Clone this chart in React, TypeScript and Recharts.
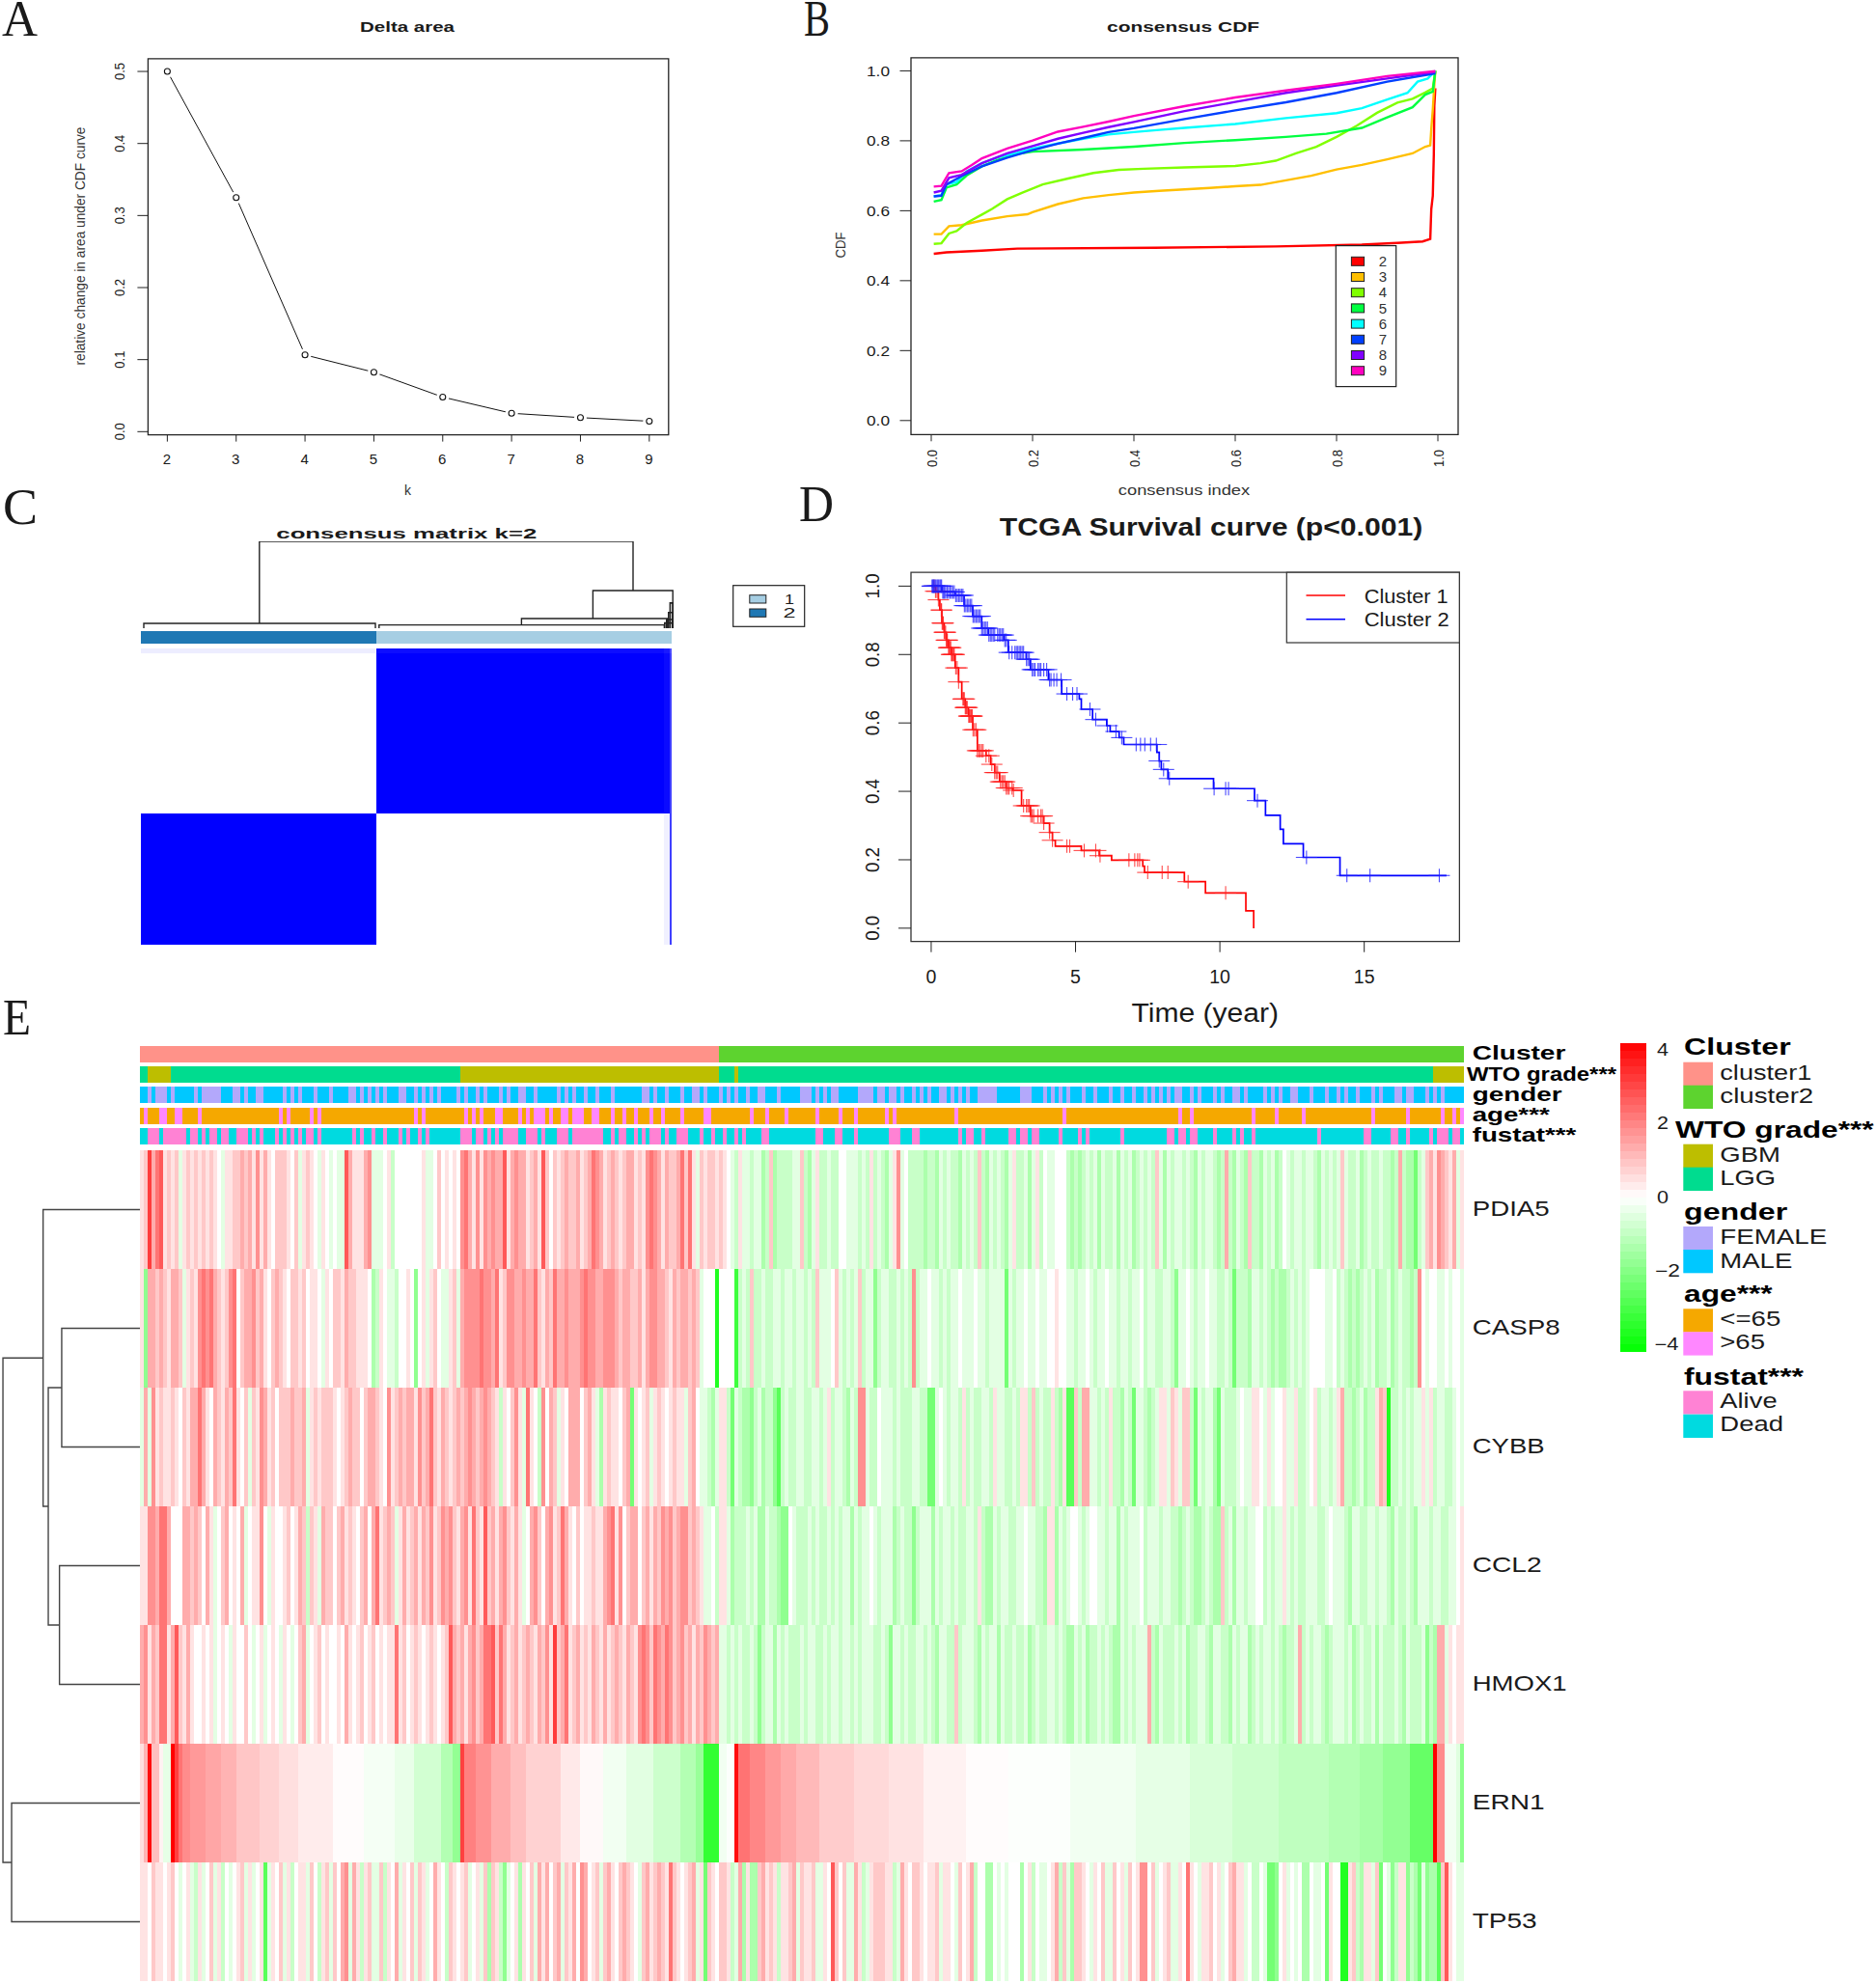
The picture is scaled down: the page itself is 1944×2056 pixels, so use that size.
import React from 'react';
import { LineChart, Line, XAxis, YAxis, BarChart, Bar, Cell, ReferenceArea } from 'recharts';

// ---------- Panel A
const deltaK = [2, 3, 4, 5, 6, 7, 8, 9];
const deltaArea = [0.5, 0.325, 0.1065, 0.0825, 0.048, 0.0255, 0.0195, 0.0145];
const deltaYTicks = [0, 0.1, 0.2, 0.3, 0.4, 0.5];

// ---------- Panel B
const cdfKeys = ['2', '3', '4', '5', '6', '7', '8', '9'];
const cdfColors = ['#FF0000', '#FFBF00', '#80FF00', '#00FF40', '#00FFFF', '#0040FF', '#8000FF', '#FF00BF'];
const cdf2x = [.005, .03, .1, .17, .44, .68, .85, .92, .97, .985, .987, .99, .992, .993, .995];
const cdf2y = [.477, .481, .486, .4916, .494, .498, .503, .508, .512, .519, .605, .643, .76, .9, .95];
const cdf3x = [.005, .02, .035, .06, .1, .15, .19, .2, .25, .3, .35, .4, .45, .5, .55, .6, .65, .7, .75, .8, .85, .9, .95, .975, .985, .987, .99, .993, .995];
const cdf3y = [.533, .533, .556, .559, .572, .584, .59, .596, .619, .636, .645, .652, .657, .661, .665, .67, .674, .687, .7, .718, .731, .747, .764, .783, .787, .834, .89, .96, 1];
const cdf4x = [.005, .02, .035, .05, .07, .1, .12, .15, .18, .22, .27, .32, .37, .42, .5, .6, .65, .68, .72, .76, .8, .84, .88, .92, .95, .975, .99, .995];
const cdf4y = [.505, .507, .535, .542, .565, .589, .605, .633, .652, .675, .692, .708, .717, .72, .724, .728, .736, .743, .764, .783, .811, .843, .88, .909, .92, .938, .95, 1];
const cdf5x = [.005, .02, .03, .05, .07, .1, .13, .17, .2, .3, .4, .5, .6, .7, .78, .85, .9, .95, .975, .99, .995];
const cdf5y = [.626, .631, .666, .675, .701, .727, .745, .762, .769, .775, .783, .794, .802, .811, .82, .837, .867, .896, .932, .941, 1];
const cdf6x = [.005, .02, .03, .05, .07, .1, .13, .17, .2, .25, .3, .35, .4, .45, .5, .6, .7, .8, .85, .9, .94, .96, .98, .995];
const cdf6y = [.641, .645, .675, .682, .713, .736, .752, .766, .778, .792, .806, .818, .825, .831, .837, .848, .865, .879, .893, .918, .937, .969, .978, 1];
const cdf7x = [.005, .02, .03, .06, .1, .15, .2, .25, .3, .35, .4, .5, .6, .7, .8, .9, .995];
const cdf7y = [.641, .643, .675, .699, .727, .752, .773, .792, .808, .825, .836, .862, .887, .91, .937, .969, .993];
const cdf8x = [.005, .02, .035, .06, .1, .15, .2, .25, .3, .35, .4, .5, .6, .7, .8, .9, .995];
const cdf8y = [.652, .657, .694, .703, .736, .764, .785, .806, .823, .839, .854, .885, .911, .937, .958, .978, .997];
const cdf9x = [.005, .02, .035, .06, .08, .1, .15, .2, .25, .3, .35, .4, .5, .6, .7, .8, .9, .995];
const cdf9y = [.669, .671, .708, .713, .731, .75, .778, .801, .826, .84, .855, .871, .899, .924, .944, .963, .985, .999];
const cdfTicks = [0, 0.2, 0.4, 0.6, 0.8, 1];

// ---------- Panel D
const sur1t = [0, .15, .25, .3, .37, .45, .52, .6, .7, .83, .95, 1.06, 1.18, 1.29, 1.44, 1.6, 1.9, 2.06, 2.2, 2.37, 2.6, 2.83, 3.13, 3.44, 3.9, 4.1, 4.2, 4.3, 5.2, 5.82, 6.25, 7.33, 7.39, 8.77, 9.5, 10.9, 11.17];
const sur1s = [1, .985, .96, .93, .892, .865, .842, .82, .8, .761, .72, .67, .645, .62, .58, .519, .504, .479, .455, .428, .41, .403, .358, .328, .307, .28, .257, .24, .227, .212, .199, .181, .163, .136, .103, .051, 0];
const cen1 = [.1, .15, .2, .25, .35, .36, .38, .4, .42, .45, .47, .5, .52, .55, .56, .6, .62, .65, .68, .7, .72, .75, .78, .8, .85, .9, .95, 1.1, 1.12, 1.15, 1.18, 1.2, 1.22, 1.25, 1.3, 1.32, 1.35, 1.38, 1.4, 1.42, 1.45, 1.5, 1.55, 1.6, 1.65, 1.7, 1.75, 1.8, 1.9, 2.0, 2.1, 2.2, 2.25, 2.3, 2.4, 2.45, 2.5, 2.55, 2.6, 2.65, 2.7, 2.8, 2.85, 3.2, 3.3, 3.35, 3.4, 3.45, 3.5, 3.55, 3.7, 3.8, 3.85, 3.9, 4.1, 4.2, 4.7, 4.8, 5.3, 5.7, 5.85, 6.85, 7.05, 7.15, 7.22, 7.5, 8.0, 8.2, 8.9, 10.2];
const sur2t = [0, .37, .83, 1.14, 1.44, 1.75, 1.98, 2.52, 2.67, 3.29, 3.44, 4.06, 4.52, 5.13, 5.2, 5.59, 6.08, 6.2, 6.51, 6.67, 7.82, 7.9, 7.97, 8.2, 9.78, 11.2, 11.58, 12.09, 12.2, 12.89, 14.16, 17.85];
const sur2s = [1, .983, .973, .943, .912, .877, .857, .842, .806, .786, .756, .726, .685, .67, .64, .61, .592, .575, .557, .537, .514, .489, .464, .4375, .408, .373, .33, .289, .247, .207, .154, .154];
const cen2 = [.03, .05, .08, .1, .13, .16, .2, .23, .26, .3, .33, .36, .4, .43, .46, .5, .55, .6, .65, .7, .75, .8, .85, .9, .95, 1.0, 1.05, 1.1, 1.15, 1.2, 1.25, 1.3, 1.35, 1.4, 1.45, 1.5, 1.55, 1.6, 1.65, 1.7, 1.75, 1.8, 1.85, 1.9, 1.95, 2.0, 2.05, 2.1, 2.15, 2.2, 2.3, 2.35, 2.4, 2.45, 2.5, 2.55, 2.6, 2.7, 2.8, 2.9, 2.95, 3.0, 3.05, 3.1, 3.15, 3.2, 3.3, 3.35, 3.4, 3.5, 3.55, 3.6, 3.7, 3.75, 3.8, 3.9, 4.0, 4.1, 4.15, 4.25, 4.35, 4.5, 4.7, 4.9, 5.05, 5.5, 5.7, 6.1, 6.4, 6.6, 7.1, 7.25, 7.4, 7.6, 7.8, 7.9, 8.05, 8.25, 9.8, 10.2, 10.3, 11.3, 13.0, 14.4, 15.2, 17.6];
const survXTicks = [0, 5, 10, 15];
const survYTicks = [0, 0.2, 0.4, 0.6, 0.8, 1];

// ---------- Panel C: columns are grouped samples; rows give consensus strength (0..1)
const cmCounts = [122, 149, 3, 1];
const cmCluster = [2, 1, 1, 1];
const cmBand = [.07, .95, .9, .7];
const cmUpper = [0, 1, .96, .75];
const cmLower = [1, 0, .06, .75];
const cmRowBand = 5, cmRowUpper = 166, cmRowLower = 136, cmGap = 5, cmRowBar = 13;
// dendrogram links: [leftSample, leftHeight, rightSample, rightHeight, mergeHeight]
const cmLinks = [
  [61.4, .056, 255, .433, 1],
  [1.5, 0, 121.5, 0, .056],
  [234.2, .111, 275.6, 0, .433],
  [197.2, .038, 272.9, 0, .111],
  [123.4, 0, 271.2, 0, .038],
  [274.2, 0, 275.6, 0, .29],
  [273.4, 0, 275.6, 0, .18],
  [272.4, 0, 275.6, 0, .1],
  [271.4, 0, 275.6, 0, .06],
];

// ---------- Panel E: gene rows, half-unit level per column; a = cluster 1 columns, b = cluster 2 columns
const genes = ['PDIA5', 'CASP8', 'CYBB', 'CCL2', 'HMOX1', 'ERN1', 'TP53'];
const PDIA5a = [
  1,2,7,3,5,6,1,2,1,2,-1,1,2,1,2,1,2,1,2,1,0,-1,1,1,2,2,3,2,3,1,4,1,3,1,0,2,2,2,1,0,2,-1,1,2,1,0,-1,1,0,-1,
  0,-1,-1,6,3,1,1,1,3,4,-1,-1,-1,0,1,-2,0,0,0,0,0,0,0,1,-1,-1,0,2,0,1,0,1,0,4,5,3,1,4,1,4,3,4,3,3,6,1,3,4,3,3,
  1,2,3,1,6,2,0,2,1,2,3,2,2,3,1,2,3,5,4,3,1,2,3,2,1,2,3,3,1,2,1,4,5,4,3,1,3,2,2,3,5,2,5,1,-1,2,1,2,2,1,
];
const PDIA5b = [
  2,1,0,-1,-2,1,-1,-1,-2,-1,-1,-3,-2,2,-3,-2,-2,-2,-2,-1,-1,2,-2,-3,-1,1,-2,-2,-1,-2,-2,0,0,-1,-1,-1,-2,-1,-2,1,-2,
  -1,-2,-3,-1,1,4,-1,0,-2,-2,-2,-2,-3,-2,-2,-3,-1,-2,-1,-2,-2,-3,-1,-2,-1,-2,2,-2,-3,-1,-2,-1,-2,-3,-1,1,-2,-2,-1,-3,
  -1,1,-2,0,-1,-1,0,0,0,-2,-3,-2,-3,-2,-1,-2,-1,-3,-1,-2,-2,-1,-3,-1,-2,-1,-3,-2,-1,-2,-1,-2,2,-1,-3,-1,-2,-1,-1,-2,
  -1,-2,-3,-1,-2,-1,-1,-2,-3,-2,3,-2,-3,-1,-2,-3,2,-2,-2,-3,-1,-2,-1,-3,-2,0,-1,-2,-1,-1,-2,-1,-1,-2,-3,-1,-2,-1,-2,-1,
  2,-1,-2,-2,-1,-3,-2,-1,-2,-2,-1,-2,-2,-3,-2,3,-2,-3,-3,-5,-2,-1,2,3,1,4,3,2,1,3,-1,1,
];
const CASP8a = [
  1,-4,3,3,2,3,2,1,3,3,2,-1,1,2,1,4,5,4,5,3,2,1,2,4,5,0,2,3,3,4,2,3,1,0,2,3,2,1,0,2,2,1,2,0,1,1,0,-1,1,0,
  2,2,1,3,2,2,1,1,1,0,-3,-2,1,0,-1,-1,-2,0,0,1,0,-4,0,1,-1,1,2,0,-1,-1,1,2,-1,3,4,4,4,4,5,4,4,3,5,1,2,4,4,3,3,4,
  3,3,5,2,1,3,2,5,3,3,4,3,3,3,4,5,4,4,3,3,4,4,4,3,2,3,3,2,2,3,1,3,4,4,3,3,2,1,3,2,3,3,2,3,2,-1,0,0,0,-8,
];
const CASP8b = [
  0,0,0,-7,-2,-1,-2,2,-2,-2,-1,-2,-2,-1,-1,-2,-1,-1,-2,-1,-1,-2,-1,-2,2,-1,-1,-1,0,2,-1,-2,-1,-2,-1,2,-2,-1,-4,-2,-1,
  -1,-2,-2,-1,-2,-1,-2,4,-2,-1,-1,0,-1,-1,-2,-1,-2,-1,-1,0,-1,-1,-1,0,-1,-1,-2,-1,-1,-1,-1,-5,-1,-2,-1,0,-1,-1,0,-1,
  -1,0,0,1,0,0,-1,-1,-2,-1,-1,0,-1,-2,-1,-1,0,-1,-1,-2,-1,-1,-2,-1,-1,0,-2,-1,-1,-2,-2,-1,-2,-4,-1,-1,0,-1,-2,-1,
  -1,0,-1,-1,-2,-2,-1,-2,-5,-2,-2,-2,-3,-1,-1,-2,-1,-2,-3,-2,-3,-3,-2,-1,-2,-1,-2,-1,0,0,0,-1,-1,0,-2,-1,-2,-3,-2,-3,
  -2,-1,-2,-1,-3,-2,-2,-1,-3,-2,-1,-2,-2,-3,-2,4,0,-1,0,0,-1,-1,0,-1,0,0,-1,
];
const CYBBa = [
  -1,3,-1,4,1,2,1,1,2,1,0,2,1,3,3,5,3,1,0,3,2,1,3,2,5,1,0,2,-1,2,1,4,3,1,2,0,2,2,2,3,2,2,3,-1,1,2,1,2,2,2,
  1,0,1,2,3,2,2,0,2,3,3,2,1,0,4,1,2,3,2,3,3,1,4,2,3,5,2,1,3,2,1,2,3,2,3,4,3,2,3,4,3,2,1,-2,1,0,2,4,1,-1,
  5,1,0,-2,4,0,3,2,-1,1,0,3,3,3,0,2,3,1,-1,-3,1,2,1,1,0,2,3,-5,1,0,1,2,-1,1,2,1,0,1,2,1,1,-1,2,3,0,-1,-1,-2,-3,-1,
];
const CYBBb = [
  1,-2,-5,-1,-2,-3,-4,-2,-1,-3,-2,-4,-6,-2,-1,-2,-1,-1,-2,-2,-1,-2,-1,1,-2,-1,-2,-3,-1,-2,4,-1,-2,-2,0,-1,-1,-2,-1,
  -2,-2,-1,-1,-2,-2,-5,-1,0,-1,-2,-1,-2,1,-2,-1,-2,-1,-1,-2,1,-1,-2,-2,-1,-2,1,-2,2,-2,-1,-2,1,-2,-3,1,-6,2,-2,3,3,
  -1,-2,-1,-2,1,-2,-3,-1,-2,-5,-1,-2,-3,-2,-1,1,-1,2,1,-1,2,-2,-5,-1,-2,-1,-3,-5,-1,-2,-2,-1,0,-1,-1,1,0,-1,1,-1,
  0,1,-1,-1,1,-2,-1,0,1,-2,-1,-2,-1,1,3,-2,-3,-2,-1,-3,-2,1,3,2,-8,-2,-1,-2,-1,-2,-1,1,-1,1,-2,-1,-2,-2,-1,0,-1,
];
const CCL2a = [
  1,1,4,4,3,5,5,3,0,0,0,3,3,2,3,2,0,3,1,-1,0,2,3,0,1,0,3,-1,0,1,1,4,0,-1,1,0,0,1,2,0,1,3,2,-2,2,1,-1,3,2,2,
  0,2,3,1,2,1,0,2,3,0,3,5,1,2,3,2,-1,1,3,1,2,3,1,3,2,4,1,2,4,3,4,2,1,3,4,1,5,2,1,6,2,3,1,3,4,2,1,3,1,-1,
  0,3,4,2,0,3,4,1,2,5,3,1,0,2,0,1,1,2,1,1,3,4,5,1,4,0,2,3,3,0,2,3,1,3,2,4,3,4,2,3,4,4,2,3,2,1,-1,-1,0,-2,
];
const CCL2b = [
  1,-1,-3,-2,-2,-1,-2,-1,-3,-1,-2,-2,-3,-4,0,-1,-2,-2,-1,-2,-1,-2,-1,-2,-1,-2,-1,-3,-1,-2,-1,0,-1,-2,-1,-1,-3,-2,-1,-2,
  -4,-2,-1,-1,-3,-1,-2,-1,-2,-1,-2,-2,-1,-2,1,-2,-3,-1,-2,-1,-1,-2,-1,-1,0,-1,-2,-2,-3,1,-3,-1,-2,-1,0,-1,-2,-1,0,-1,
  -1,-2,-1,-3,-1,-2,-1,-1,0,-2,-1,-1,-2,-1,-1,-2,-3,-2,-1,-2,-3,-2,-1,-2,-3,2,-2,-1,-3,-1,-2,-1,-1,0,-2,-1,-2,-1,1,-1,
  -2,-1,-2,-1,-1,-1,-2,-1,0,-1,-1,-2,-3,-1,-1,-2,-1,-1,-2,-1,-2,-3,-1,-2,-1,-2,-3,-1,-1,-2,-1,-1,-2,-1,-1,0,1,
];
const HMOX1a = [
  3,4,1,3,2,5,5,1,3,6,2,1,3,1,0,0,1,0,1,-1,0,1,0,-1,1,0,0,2,0,-1,0,1,-1,0,1,0,-1,1,0,-1,0,2,3,-1,0,1,2,0,1,0,
  0,1,0,3,1,0,1,2,0,1,2,0,1,0,1,1,5,1,2,0,1,2,1,0,1,2,1,0,1,2,6,3,2,3,1,3,4,2,3,5,5,6,2,5,3,1,2,3,1,2,
  3,2,1,3,2,4,1,7,2,3,5,1,2,3,1,2,1,3,2,1,3,1,2,3,2,1,3,2,1,4,5,4,2,5,4,3,5,4,2,3,4,2,3,1,3,2,4,3,2,3,
];
const HMOX1b = [
  -1,-2,-1,-2,-1,-2,-1,-2,-4,-2,-1,-3,-1,-2,-1,-2,-2,-1,-2,-1,-1,-2,-1,-2,-1,-1,-2,-1,-2,-1,-2,-1,-1,-2,-2,-1,-2,-4,-1,-2,
  -1,-2,-2,-1,-2,-1,-2,-3,-1,-2,-2,2,-2,-1,-1,-2,-3,-1,-2,-1,-3,-1,-2,-2,-1,-2,-1,-3,-2,-1,-2,-1,-1,-2,-1,-2,-3,-1,-2,-1,
  -3,-2,-1,-2,-1,-2,-3,-1,-2,-1,-2,-1,-1,3,-2,-3,-1,-2,-2,-1,-2,-1,-3,-2,-1,-1,-2,-3,-1,-2,-2,-3,-1,-2,-1,-3,-2,-1,-2,-1,
  -2,-1,-2,-3,-2,-1,3,-2,-1,-2,-1,-2,-3,-2,-1,-1,-2,-1,-3,-2,-1,-2,-1,-3,-1,-2,-2,-1,-2,-3,-1,-2,-2,-1,-4,-2,-3,3,-1,1,0,1,1,
];
const ernRuns = [
  [.5,1],[1.2,1],[3.8,1],[1,2],[.2,1],[-.4,2],[4,1],[3,1],[2.2,1],[1.8,2],[1.6,4],[1.4,4],[1.2,4],[.9,6],[.7,5],[.5,5],[.3,9],[.05,8],[-.15,8],[-.35,5],[-.7,7],[-1.2,3],[-1.7,2],
  [3,1],[2,3],[1.7,4],[1.3,5],[1,4],[.7,9],[.35,5],[.1,6],[-.2,6],[-.45,7],[-.8,7],[-1.2,4],[-1.6,2],[-3.2,4],
  [-.2,2],[-.05,2],[3.8,1],[2.2,3],[1.9,4],[1.6,4],[1.35,4],[1.1,6],[.8,9],[.6,9],[.45,9],[.2,11],[.05,11],[-.05,16],[-.2,17],[-.4,14],[-.6,11],[-.8,12],[-1,13],[-1.2,8],[-1.4,6],[-1.7,7],[-2.4,6],
  [4,1],[1.8,2],[-.2,3],[-.5,1],[-1.8,1],
];
const TP53a = [
  1,1,0,2,1,1,0,1,2,0,-1,0,1,-1,-2,1,-1,0,2,-1,1,-2,0,-1,0,1,2,-1,1,-1,0,1,-6,-1,1,0,2,-1,1,-2,0,1,1,-1,2,0,-2,1,2,-1,
  2,0,3,4,-1,3,1,-2,1,2,-1,-1,2,-2,1,0,3,-1,1,0,2,-1,2,1,-1,0,3,1,0,-2,2,1,0,1,2,-1,0,1,-1,2,-3,2,1,-2,-4,-1,0,1,-3,1,
  0,2,-1,3,1,3,0,2,3,-1,2,1,3,0,4,3,0,1,2,-1,2,3,1,0,2,3,2,1,0,-1,2,3,1,2,3,2,1,5,2,1,0,1,2,3,-1,1,-5,2,1,0,
];
const TP53b = [
  2,1,-2,-1,3,-3,1,-3,2,3,1,2,1,-2,1,2,3,-1,2,1,1,2,-1,1,0,6,2,0,2,-1,3,1,-2,-1,1,2,2,1,1,-2,-1,3,1,0,2,
  1,0,1,1,2,-1,1,0,-1,2,0,1,3,-2,0,-3,-3,0,-1,0,-1,0,0,-3,0,1,-2,0,-1,0,1,3,-2,2,-1,-3,2,1,0,-1,
  1,0,2,-1,2,0,1,-1,2,0,1,4,0,2,-1,0,1,2,-1,1,0,5,1,0,-1,1,2,0,1,-1,0,2,3,1,-1,0,-2,-2,0,-1,
  -5,-4,0,1,-1,0,-1,0,-3,0,-1,-1,0,-5,1,0,-8,-8,1,2,-2,-3,1,-1,2,-5,0,-1,-4,-2,1,-4,-2,-3,-5,-1,-4,-3,-6,2,6,1,0,-1,-1,
];

// ---------- Panel E: annotation rows
const annCols = 343;
const clusterOneCols = 150;
const clusterRuns = [[0, 150], [1, 193]];
const gradeRuns = [[0, 2], [1, 6], [0, 75], [1, 67], [0, 4], [1, 1], [0, 180], [1, 8]]; // 1 = GBM
const femaleCols = [2,4,5,6,8,14,16,17,18,19,20,24,25,27,30,31,37,39,41,45,49,54,55,57,59,61,63,67,68,71,73,75,77,82,84,87,89,93,95,98,99,102,108,110,112,115,118,122,130,131,133,136,140,143,144,146,150,152,154,157,160,161,165,171,172,173,175,177,179,180,186,187,188,189,191,192,194,195,197,200,202,204,207,208,210,212,214,217,218,219,220,221,228,229,230,234,236,238,240,244,247,251,254,257,260,262,264,266,268,269,272,274,278,280,283,284,286,291,293,295,298,299,303,307,310,312,315,319,321,325,326,328,329,333,335,337];
const over65Cols = [1,5,6,9,10,15,36,38,44,46,71,73,84,86,88,92,93,98,100,102,103,104,106,109,110,112,113,114,117,118,122,125,128,132,135,140,146,147,158,162,167,175,181,185,193,195,211,239,269,272,288,294,301,319,328,337,340,342];
const aliveCols = [2,3,4,6,7,8,9,10,11,13,14,16,18,19,21,22,25,26,27,29,31,35,37,39,41,43,44,46,55,57,60,63,67,69,72,74,83,84,85,87,88,90,92,94,95,96,97,100,101,102,104,108,109,110,112,113,114,115,116,117,118,119,122,124,125,128,130,132,133,134,136,139,140,141,145,148,151,154,156,161,162,175,176,180,181,185,194,195,196,200,201,212,214,215,218,225,226,228,229,231,232,238,243,245,254,266,267,269,270,272,273,278,283,285,288,305,317,318,324,325,328,334,336,337,338,340,341];

// ---------- Panel E: colours and labels
const scaleMid = [3.9,3.7,3.5,3.3,3.1,2.9,2.7,2.5,2.3,2.1,1.9,1.7,1.5,1.3,1.1,.9,.7,.5,.3,.1,-.1,-.3,-.5,-.7,-.9,-1.1,-1.3,-1.5,-1.7,-1.9,-2.1,-2.3,-2.5,-2.7,-2.9,-3.1,-3.3,-3.5,-3.7,-3.9];
const clusterColors = ['#FF9289', '#5DD32F'];
const gradeColors = ['#00DC8F', '#BDBE00'];
const genderColors = ['#00C8FF', '#B3A8FB'];
const ageColors = ['#F5A800', '#FF87FF'];
const fustatColors = ['#00DAE0', '#FF82D4'];
// gene dendrogram: [topHeight, topRow, bottomHeight, bottomRow, mergeHeight]
const geneLinks = [
  [0, 1.5, 0, 2.5, .559],
  [0, 3.5, 0, 4.5, .575],
  [.559, 2, .575, 4, .655],
  [0, .5, .655, 3, .692],
  [0, 5.5, 0, 6.5, .917],
  [.692, 1.75, .917, 6, .979],
];

// ---------- helpers
const SANS = '"Liberation Sans", Arial, sans-serif';
const SERIF = '"Liberation Serif", serif';
const INK = '#1a1a1a';
const HEAT_UNITS_PER_LEVEL = 1 / 2.3;

const T = ({ x, y, w, size, bold, anchor, rot, family, fill, children }: any) => (
  <text x={x} y={y} fontSize={size} fontFamily={family || SANS} fontWeight={bold ? 700 : 400} textAnchor={anchor || 'start'} fill={fill || INK}
    textLength={w} lengthAdjust={w ? 'spacingAndGlyphs' : undefined} transform={rot ? `rotate(-90 ${x} ${y})` : undefined}>{children}</text>
);

const tickRot = (fmt: (v: number) => string, dx: number, dy: number, size: number, w: number) => (p: any) => (
  <T x={p.x + dx} y={p.y + dy} size={size} w={w} anchor="middle" rot>{fmt(p.payload.value)}</T>
);
const tickFlat = (fmt: (v: number) => string, dx: number, dy: number, size: number, w?: number) => (p: any) => (
  <T x={p.x + dx} y={p.y + dy} size={size} w={w} anchor="middle">{fmt(p.payload.value)}</T>
);
const f1 = (v: number) => v.toFixed(1);
const f0 = (v: number) => String(v);

const heatColor = (v: number) => {
  const t = Math.min(1, Math.abs(v) / 4);
  const c = Math.round(255 * (1 - t));
  return v >= 0 ? `rgb(255,${c},${c})` : `rgb(${c},255,${c})`;
};
const blueMix = (t: number) => {
  const c = Math.round(255 * (1 - t));
  return `rgb(${c},${c},255)`;
};
// aligns a column reading onto its exact column count (nearest column)
const alignCols = (a: number[], n: number) => {
  const out: number[] = [];
  for (let i = 0; i < n; i++) out.push(a[Math.floor((i * a.length) / n)]);
  return out;
};
const expandRuns = (runs: number[][]) => {
  const out: number[] = [];
  runs.forEach(([v, n]) => { for (let i = 0; i < n; i++) out.push(v); });
  return out;
};
const flagged = (cols: number[]) => {
  const out: number[] = new Array(annCols).fill(0);
  cols.forEach((c) => { out[c] = 1; });
  return out;
};
const stepValue = (ts: number[], ss: number[], t: number) => {
  let s = ss[0];
  ts.forEach((tt, i) => { if (tt <= t) s = ss[i]; });
  return s;
};
const zipXY = (xs: number[], ys: number[]) => xs.map((x, i) => ({ x, y: ys[i] }));
const linkPathH = (l: number[]) => [
  { x: l[0], y: l[1] }, { x: l[0], y: l[4] }, { x: l[2], y: l[4] }, { x: l[2], y: l[3] },
];
const linkPathV = (l: number[]) => [
  { x: l[0], y: l[1] }, { x: l[4], y: l[1] }, { x: l[4], y: l[3] }, { x: l[2], y: l[3] },
];

const Pos = ({ x, y, children }: any) => <div style={{ position: 'absolute', left: x, top: y }}>{children}</div>;

const plus = (color: string) => (p: any) => (
  <g key={p.key ?? p.index} stroke={color} strokeWidth={1.1} opacity={0.8}>
    <line x1={p.cx - 11} x2={p.cx + 11} y1={p.cy} y2={p.cy} />
    <line x1={p.cx} x2={p.cx} y1={p.cy - 7} y2={p.cy + 7} />
  </g>
);

const openDot = (p: any) => (
  <g key={p.key ?? p.index}>
    <circle cx={p.cx} cy={p.cy} r={6.5} fill="#fff" />
    <circle cx={p.cx} cy={p.cy} r={3} fill="#fff" stroke="#111" strokeWidth={1.1} />
  </g>
);

const AXIS_STROKE = { stroke: '#222', strokeWidth: 1 };

const PanelA = () => (
  <Pos x={0} y={0}>
    <LineChart width={694} height={520} margin={{ top: 60.9, right: 1.2, left: 0, bottom: 0 }}>
      <XAxis type="number" dataKey="x" domain={[1.72, 9.28]} ticks={deltaK} interval={0} height={69.4} axisLine={false} tickSize={7} tickMargin={0} tickLine={AXIS_STROKE}
        tick={tickFlat(f0, -0.5, 23.5, 15)} allowDataOverflow />
      <YAxis type="number" domain={[-0.0044, 0.5176]} ticks={deltaYTicks} interval={0} width={153.4} axisLine={false} tickSize={11} tickMargin={0} tickLine={AXIS_STROKE}
        tick={tickRot(f1, -13, 0, 15, 18)} allowDataOverflow />
      <ReferenceArea x1={1.72} x2={9.28} y1={-0.0044} y2={0.5176} fill="none" stroke="#222" strokeWidth={1.3} ifOverflow="visible" />
      <Line data={zipXY(deltaK, deltaArea)} dataKey="y" stroke="#111" strokeWidth={1} dot={openDot} isAnimationActive={false} />
    </LineChart>
  </Pos>
);

const cdfSeries = [
  zipXY(cdf2x, cdf2y), zipXY(cdf3x, cdf3y), zipXY(cdf4x, cdf4y), zipXY(cdf5x, cdf5y),
  zipXY(cdf6x, cdf6y), zipXY(cdf7x, cdf7y), zipXY(cdf8x, cdf8y), zipXY(cdf9x, cdf9y),
];

const PanelB = () => (
  <Pos x={860} y={0}>
    <LineChart width={652} height={520} margin={{ top: 59.8, right: 1, left: 0, bottom: 0 }}>
      <XAxis type="number" dataKey="x" domain={[-0.04, 1.04]} ticks={cdfTicks} interval={0} height={69.7} axisLine={false} tickSize={7} tickMargin={0} tickLine={AXIS_STROKE}
        tick={tickRot(f1, 6, 17.7, 15.5, 18)} allowDataOverflow />
      <YAxis type="number" domain={[-0.04, 1.0376]} ticks={cdfTicks} interval={0} width={84} axisLine={false} tickSize={11.5} tickMargin={0} tickLine={AXIS_STROKE}
        tick={tickFlat(f1, -22.5, 5.5, 15, 24)} allowDataOverflow />
      <ReferenceArea x1={-0.04} x2={1.04} y1={-0.04} y2={1.0376} fill="none" stroke="#222" strokeWidth={1.3} ifOverflow="visible" />
      {cdfSeries.map((d, i) => (
        <Line key={cdfKeys[i]} data={d} dataKey="y" stroke={cdfColors[i]} strokeWidth={2.4} dot={false} isAnimationActive={false} />
      ))}
    </LineChart>
  </Pos>
);

const PanelD = () => (
  <Pos x={860} y={540}>
    <LineChart width={653} height={530} margin={{ top: 53.2, right: 0.6, left: 0, bottom: 0 }}>
      <XAxis type="number" dataKey="x" domain={[-0.7, 18.3]} ticks={survXTicks} interval={0} height={94.3} axisLine={false} tickSize={11} tickMargin={0} tickLine={AXIS_STROKE}
        tick={tickFlat(f0, 0, 32.3, 19.5)} allowDataOverflow />
      <YAxis type="number" domain={[-0.039, 1.04]} ticks={survYTicks} interval={0} width={84} axisLine={false} tickSize={13} tickMargin={0} tickLine={AXIS_STROKE}
        tick={tickRot(f1, -20, 0, 19.5, 26)} allowDataOverflow />
      <ReferenceArea x1={-0.7} x2={18.3} y1={-0.039} y2={1.04} fill="none" stroke="#333" strokeWidth={1.3} ifOverflow="visible" />
      <Line data={cen1.map((t) => ({ x: t, y: stepValue(sur1t, sur1s, t) }))} dataKey="y" stroke="none" dot={plus('#FF2020')} isAnimationActive={false} legendType="none" />
      <Line data={cen2.map((t) => ({ x: t, y: stepValue(sur2t, sur2s, t) }))} dataKey="y" stroke="none" dot={plus('#2020FF')} isAnimationActive={false} legendType="none" />
      <Line data={zipXY(sur1t, sur1s)} dataKey="y" type="stepAfter" stroke="#FF0000" strokeWidth={1.7} dot={false} isAnimationActive={false} />
      <Line data={zipXY(sur2t, sur2s)} dataKey="y" type="stepAfter" stroke="#0000FF" strokeWidth={1.7} dot={false} isAnimationActive={false} />
    </LineChart>
  </Pos>
);

const cmCluster_ = expandRuns(cmCounts.map((n, i) => [cmCluster[i], n]));
const cmBand_ = expandRuns(cmCounts.map((n, i) => [cmBand[i], n]));
const cmUpper_ = expandRuns(cmCounts.map((n, i) => [cmUpper[i], n]));
const cmLower_ = expandRuns(cmCounts.map((n, i) => [cmLower[i], n]));
const cmTable = cmCluster_.map((c, i) => ({ col: i, lower: cmRowLower, upper: cmRowUpper, band: cmRowBand, gap: cmGap, bar: cmRowBar }));

const PanelC = () => (
  <>
    <Pos x={146} y={560}>
      <LineChart width={552} height={92} margin={{ top: 1, right: 0, left: 0, bottom: 1 }}>
        <XAxis type="number" dataKey="x" domain={[0, 276]} hide allowDataOverflow />
        <YAxis type="number" domain={[0, 1]} hide allowDataOverflow />
        {cmLinks.map((l, i) => (
          <Line key={i} data={linkPathH(l)} dataKey="y" stroke="#222" strokeWidth={i > 4 ? 1.6 : 1.4} dot={false} isAnimationActive={false} />
        ))}
      </LineChart>
    </Pos>
    <Pos x={146} y={653.7}>
      <BarChart width={550} height={325} data={cmTable} barCategoryGap={0} barGap={0} margin={{ top: 0, right: 0, left: 0, bottom: 0 }}>
        <XAxis dataKey="col" hide />
        <YAxis hide domain={[0, 325]} />
        <Bar dataKey="lower" stackId="m" isAnimationActive={false}>
          {cmLower_.map((v, i) => <Cell key={i} fill={blueMix(v)} />)}
        </Bar>
        <Bar dataKey="upper" stackId="m" isAnimationActive={false}>
          {cmUpper_.map((v, i) => <Cell key={i} fill={blueMix(v)} />)}
        </Bar>
        <Bar dataKey="band" stackId="m" isAnimationActive={false}>
          {cmBand_.map((v, i) => <Cell key={i} fill={blueMix(v)} />)}
        </Bar>
        <Bar dataKey="gap" stackId="m" fill="none" isAnimationActive={false} />
        <Bar dataKey="bar" stackId="m" isAnimationActive={false}>
          {cmCluster_.map((v, i) => <Cell key={i} fill={v === 1 ? '#A6CEE3' : '#1F78B4'} />)}
        </Bar>
      </BarChart>
    </Pos>
  </>
);

const clusterTwoCols = annCols - clusterOneCols;
const geneFrom = (a: number[], b: number[]) => [...alignCols(a, clusterOneCols), ...alignCols(b, clusterTwoCols)].map((v) => v * HEAT_UNITS_PER_LEVEL);
const geneRows: Record<string, number[]> = {
  PDIA5: geneFrom(PDIA5a, PDIA5b),
  CASP8: geneFrom(CASP8a, CASP8b),
  CYBB: geneFrom(CYBBa, CYBBb),
  CCL2: geneFrom(CCL2a, CCL2b),
  HMOX1: geneFrom(HMOX1a, HMOX1b),
  ERN1: alignCols(expandRuns(ernRuns), annCols),
  TP53: geneFrom(TP53a, TP53b),
};
const heatTable = geneRows.PDIA5.map((_, i) => {
  const row: any = { col: i };
  genes.forEach((g) => { row[g] = 1; });
  return row;
});

const annRows = [
  { vals: expandRuns(clusterRuns), colors: clusterColors, top: 1084 },
  { vals: expandRuns(gradeRuns), colors: gradeColors, top: 1105 },
  { vals: flagged(femaleCols), colors: genderColors, top: 1126 },
  { vals: flagged(over65Cols), colors: ageColors, top: 1148 },
  { vals: flagged(aliveCols), colors: fustatColors, top: 1169 },
];
const annTable = heatTable.map((r) => ({ col: r.col, h: 1 }));
const scaleTable = scaleMid.map((v, i) => ({ cat: i, h: 1 }));

const PanelE = () => (
  <>
    {annRows.map((r, k) => (
      <Pos x={145} y={r.top} key={k}>
        <BarChart width={1372} height={17} data={annTable} barCategoryGap={0} barGap={0} margin={{ top: 0, right: 0, left: 0, bottom: 0 }}>
          <XAxis dataKey="col" hide />
          <YAxis hide domain={[0, 1]} />
          <Bar dataKey="h" isAnimationActive={false}>
            {r.vals.map((v, i) => <Cell key={i} fill={r.colors[v]} />)}
          </Bar>
        </BarChart>
      </Pos>
    ))}
    <Pos x={145} y={1192}>
      <BarChart width={1372} height={861} data={heatTable} barCategoryGap={0} barGap={0} margin={{ top: 0, right: 0, left: 0, bottom: 0 }}>
        <XAxis dataKey="col" hide />
        <YAxis hide domain={[0, 7]} />
        {[...genes].reverse().map((g) => (
          <Bar key={g} dataKey={g} stackId="h" isAnimationActive={false}>
            {geneRows[g].map((v, i) => <Cell key={i} fill={heatColor(v)} />)}
          </Bar>
        ))}
      </BarChart>
    </Pos>
    <Pos x={0} y={1192}>
      <LineChart width={145} height={861} margin={{ top: 0, right: 0, left: 0, bottom: 0 }}>
        <XAxis type="number" dataKey="x" domain={[0, 1]} reversed hide allowDataOverflow />
        <YAxis type="number" domain={[0, 7]} reversed hide allowDataOverflow />
        {geneLinks.map((l, i) => (
          <Line key={i} data={linkPathV(l)} dataKey="y" stroke="#444" strokeWidth={1.4} dot={false} isAnimationActive={false} />
        ))}
      </LineChart>
    </Pos>
    <Pos x={1679} y={1081}>
      <BarChart width={27} height={320} layout="vertical" data={scaleTable} barCategoryGap={0} barGap={0} margin={{ top: 0, right: 0, left: 0, bottom: 0 }}>
        <XAxis type="number" hide domain={[0, 1]} />
        <YAxis type="category" dataKey="cat" hide />
        <Bar dataKey="h" isAnimationActive={false}>
          {scaleMid.map((v, i) => <Cell key={i} fill={heatColor(v)} />)}
        </Bar>
      </BarChart>
    </Pos>
  </>
);

const geneLabelY = [1260, 1383, 1506, 1629, 1752, 1875, 1998];
const geneLabelW = [80, 91, 75, 72, 98, 75, 67];
const annLabels = [
  ['Cluster', 1525.7, 1098.3, 96.7],
  ['WTO grade***', 1520, 1120, 155],
  ['gender', 1525.7, 1141, 93],
  ['age***', 1525.7, 1161.7, 80],
  ['fustat***', 1525.7, 1183.3, 107.7],
];
const scaleLabels = [['4', 1723, 1094.3, 12], ['2', 1723, 1170, 12], ['0', 1723, 1247, 12], ['\u22122', 1728, 1323, 26], ['\u22124', 1727, 1399, 25]];
const legendGroups = [
  { title: 'Cluster', tx: 1745, ty: 1093.3, tw: 110.7, items: [['cluster1', clusterColors[0], 1100.7, 1119, 95], ['cluster2', clusterColors[1], 1124.7, 1143.3, 97]] },
  { title: 'WTO grade***', tx: 1736, ty: 1179.3, tw: 205.7, items: [['GBM', gradeColors[1], 1185.7, 1204, 62.7], ['LGG', gradeColors[0], 1209.7, 1228.3, 57.7]] },
  { title: 'gender', tx: 1745, ty: 1264, tw: 107.3, items: [['FEMALE', genderColors[1], 1271, 1289.3, 111], ['MALE', genderColors[0], 1295, 1314, 75]] },
  { title: 'age***', tx: 1745, ty: 1349.3, tw: 91.7, items: [['<=65', ageColors[0], 1356.3, 1374, 63], ['>65', ageColors[1], 1380.3, 1398.3, 46.7]] },
  { title: 'fustat***', tx: 1745, ty: 1435, tw: 124, items: [['Alive', fustatColors[1], 1441.3, 1459.3, 59.3], ['Dead', fustatColors[0], 1465.7, 1483.3, 65.7]] },
];

const Overlay = () => (
  <svg width={1944} height={2056} style={{ position: 'absolute', left: 0, top: 0, pointerEvents: 'none' }}>
    <T x={2} y={37} size={52} family={SERIF} w={37}>A</T>
    <T x={833} y={37} size={52} family={SERIF} w={27}>B</T>
    <T x={3} y={543} size={52} family={SERIF} w={36}>C</T>
    <T x={828} y={540} size={52} family={SERIF} w={36}>D</T>
    <T x={3} y={1072} size={52} family={SERIF} w={29}>E</T>

    <T x={373} y={33} size={15} bold w={98}>Delta area</T>
    <T x={88} y={255} size={14.5} anchor="middle" rot w={247} fill="#333">relative change in area under CDF curve</T>
    <T x={422.4} y={513} size={14} anchor="middle" fill="#333">k</T>

    <T x={1147} y={33} size={15} bold w={158}>consensus CDF</T>
    <T x={1158.8} y={513} size={14} w={136.4} fill="#333">consensus index</T>
    <T x={876} y={254} size={14} anchor="middle" rot w={27} fill="#333">CDF</T>
    <rect x={1384.3} y={254.6} width={62.4} height={146} fill="#fff" stroke="#222" strokeWidth={1.2} />
    {cdfKeys.map((k, i) => (
      <g key={k}>
        <rect x={1400.4} y={266.3 + 16.2 * i} width={13.2} height={9} fill={cdfColors[i]} stroke="#222" strokeWidth={1} />
        <T x={1433} y={276 + 16.2 * i} size={15} anchor="middle" fill="#333">{k}</T>
      </g>
    ))}

    <T x={286.3} y={558.3} size={15} bold w={270}>consensus matrix k=2</T>
    <rect x={759.7} y={606.7} width={74} height={42.6} fill="#fff" stroke="#222" strokeWidth={1.2} />
    <rect x={776.8} y={616.7} width={17} height={8.3} fill="#A6CEE3" stroke="#222" strokeWidth={1} />
    <rect x={776.8} y={631} width={17} height={8.3} fill="#1F78B4" stroke="#222" strokeWidth={1} />
    <T x={818} y={625.5} size={14} anchor="middle" w={10}>1</T>
    <T x={818} y={640} size={14} anchor="middle" w={13}>2</T>

    <T x={1035.8} y={554.6} size={26} bold w={438.5}>TCGA Survival curve (p&lt;0.001)</T>
    <T x={1172.6} y={1059} size={27} w={152.4}>Time (year)</T>
    <rect x={1333.3} y={593.2} width={179} height={72.8} fill="#fff" stroke="#333" strokeWidth={1.2} />
    <line x1={1353.5} x2={1394} y1={617} y2={617} stroke="#FF0000" strokeWidth={1.6} />
    <line x1={1353.5} x2={1394} y1={641.8} y2={641.8} stroke="#0000FF" strokeWidth={1.6} />
    <T x={1413.7} y={625.4} size={20} w={87}>Cluster 1</T>
    <T x={1413.7} y={649.3} size={20} w={88}>Cluster 2</T>

    {annLabels.map((a: any) => <T key={a[0]} x={a[1]} y={a[2]} size={20.5} bold w={a[3]} fill="#000">{a[0]}</T>)}
    {genes.map((g, i) => <T key={g} x={1525.7} y={geneLabelY[i]} size={21.5} w={geneLabelW[i]}>{g}</T>)}
    {scaleLabels.map((s: any) => <T key={s[0]} x={s[1]} y={s[2]} size={17.5} anchor="middle" w={s[3]}>{s[0]}</T>)}
    {legendGroups.map((g: any) => (
      <g key={g.title}>
        <T x={g.tx} y={g.ty} size={23} bold w={g.tw} fill="#000">{g.title}</T>
        {g.items.map((it: any) => (
          <g key={it[0]}>
            <rect x={1744.3} y={it[2]} width={30.7} height={24.3} fill={it[1]} />
            <T x={1782.3} y={it[3]} size={22} w={it[4]}>{it[0]}</T>
          </g>
        ))}
      </g>
    ))}
  </svg>
);

export default function App() {
  return (
    <div style={{ position: 'absolute', left: 0, top: 0, width: 1944, height: 2056, background: '#fff', overflow: 'hidden' }}>
      <PanelA />
      <PanelB />
      <PanelC />
      <PanelD />
      <PanelE />
      <Overlay />
    </div>
  );
}
